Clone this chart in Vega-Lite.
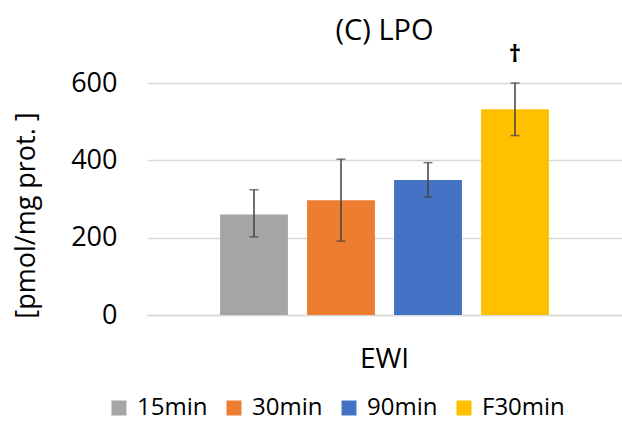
{
  "$schema": "https://vega.github.io/schema/vega-lite/v6.json",
  "autosize": "none",
  "width": 475,
  "height": 232,
  "padding": {"left": 147, "top": 83, "right": 0, "bottom": 110},
  "background": "white",
  "config": {"font": "Open Sans", "view": {"stroke": null}},
  "title": {"text": "(C) LPO", "fontSize": 29, "fontWeight": "normal", "color": "#000000", "anchor": "middle", "offset": -3, "font": "Open Sans"},
  "data": {"values": [
    {"group": "EWI", "series": "15min", "value": 260, "lo": 202, "hi": 324, "mark": ""},
    {"group": "EWI", "series": "30min", "value": 297, "lo": 191, "hi": 403, "mark": ""},
    {"group": "EWI", "series": "90min", "value": 349, "lo": 305, "hi": 394, "mark": ""},
    {"group": "EWI", "series": "F30min", "value": 532, "lo": 464, "hi": 600, "mark": "†"}
  ]},
  "encoding": {
    "x": {"field": "group", "type": "nominal", "scale": {"paddingOuter": 0.1825, "paddingInner": 0},
      "axis": {"title": null, "labelAngle": 0, "labelFontSize": 28, "labelColor": "#000000", "labelPadding": 30, "ticks": false, "domainColor": "#d9d9d9", "domainWidth": 1.5}},
    "xOffset": {"field": "series", "type": "nominal", "sort": ["15min", "30min", "90min", "F30min"], "scale": {"paddingInner": 0.22, "paddingOuter": 0.11}}
  },
  "layer": [
    {
      "mark": {"type": "bar"},
      "encoding": {
        "y": {"field": "value", "type": "quantitative", "scale": {"domain": [0, 600]},
          "axis": {"title": "[pmol/mg prot. ]", "titleFontSize": 27, "titleFontWeight": "normal", "titleColor": "#000000", "titlePadding": 30, "titleY": 132,
            "values": [0, 200, 400, 600], "labelFontSize": 27, "labelColor": "#000000", "labelPadding": 30, "ticks": false, "domain": false,
            "gridColor": "#d9d9d9", "gridWidth": 1.5}},
        "color": {"field": "series", "type": "nominal", "sort": ["15min", "30min", "90min", "F30min"],
          "scale": {"domain": ["15min", "30min", "90min", "F30min"], "range": ["#a5a5a5", "#ed7d31", "#4472c4", "#ffc000"]},
          "legend": {"title": null, "orient": "none", "direction": "horizontal", "legendX": -40, "legendY": 313,
            "symbolType": "square", "symbolSize": 225, "symbolStrokeWidth": 0, "labelFontSize": 24, "labelColor": "#000000", "columnPadding": 14, "labelOffset": 6, "labelLimit": 300}}
      }
    },
    {
      "mark": {"type": "rule", "color": "#404040", "strokeWidth": 1.5},
      "encoding": {"y": {"field": "lo", "type": "quantitative"}, "y2": {"field": "hi"}}
    },
    {
      "mark": {"type": "tick", "color": "#404040", "thickness": 1.5, "size": 9},
      "encoding": {"y": {"field": "hi", "type": "quantitative"}}
    },
    {
      "mark": {"type": "tick", "color": "#404040", "thickness": 1.5, "size": 9},
      "encoding": {"y": {"field": "lo", "type": "quantitative"}}
    },
    {
      "mark": {"type": "text", "fontSize": 24, "color": "#000000", "dy": -28, "font": "Open Sans", "fontWeight": "bold"},
      "encoding": {"y": {"field": "hi", "type": "quantitative"}, "text": {"field": "mark"}}
    }
  ]
}
